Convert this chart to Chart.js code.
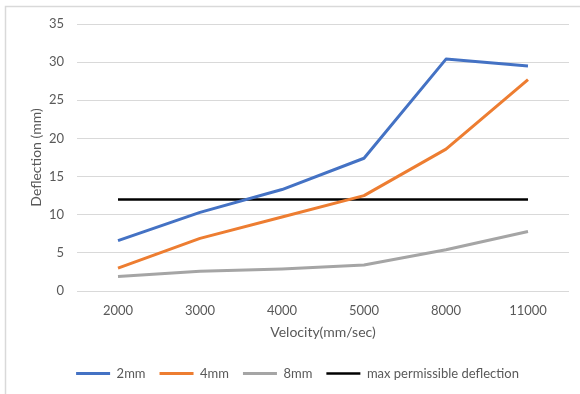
<!DOCTYPE html>
<html>
<head>
<meta charset="utf-8">
<title>Deflection vs Velocity</title>
<script src="https://cdn.jsdelivr.net/npm/chart.js@4.4.1/dist/chart.umd.min.js"></script>
<style>
  html, body { margin: 0; padding: 0; background: #fff; }
  #wrap { position: relative; width: 580px; height: 394px; }
</style>
</head>
<body>
<div id="wrap"><canvas id="chart" width="580" height="394"></canvas></div>
<script>
// Velocity categories (mm/sec)
const velocities = ['2000', '3000', '4000', '5000', '8000', '11000'];

// Deflection (mm) for each plate thickness
const deflection2mm = [6.6, 10.3, 13.3, 17.4, 30.4, 29.5];
const deflection4mm = [3.0, 6.9, 9.7, 12.5, 18.6, 27.7];
const deflection8mm = [1.9, 2.6, 2.9, 3.4, 5.4, 7.8];
const maxPermissible = [12, 12, 12, 12, 12, 12];

const yTicks = { min: 0, max: 35, step: 5 };

const textGray = '#595959';
const gridGray = '#d9d9d9';
const fontFamily = 'Lato, "Open Sans", "Liberation Sans", sans-serif';

// Thin frame along the top and left of the chart area
const framePlugin = {
  id: 'frame',
  beforeDraw(chart) {
    const ctx = chart.ctx;
    ctx.save();
    ctx.fillStyle = '#ffffff';
    ctx.fillRect(0, 0, chart.width, chart.height);
    ctx.strokeStyle = '#d9d9d9';
    ctx.lineWidth = 1.5;
    ctx.beginPath();
    ctx.moveTo(5.5, chart.height);
    ctx.lineTo(5.5, 6.5);
    ctx.lineTo(chart.width, 6.5);
    ctx.stroke();
    ctx.restore();
  }
};

function lineSet(label, data, color) {
  return {
    label,
    data,
    borderColor: color,
    backgroundColor: color,
    borderWidth: 3,
    pointRadius: 0,
    pointHoverRadius: 0,
    tension: 0,
    fill: false,
    borderCapStyle: 'butt',
    borderJoinStyle: 'round'
  };
}

new Chart(document.getElementById('chart'), {
  type: 'line',
  data: {
    labels: velocities,
    datasets: [
      lineSet('2mm', deflection2mm, '#4472C4'),
      lineSet('4mm', deflection4mm, '#ED7D31'),
      lineSet('8mm', deflection8mm, '#A5A5A5'),
      Object.assign(lineSet('max permissible deflection', maxPermissible, '#000000'), { borderWidth: 2.5 })
    ]
  },
  options: {
    responsive: false,
    animation: false,
    events: [],
    layout: { padding: { left: 26, right: 11, top: 24, bottom: 4 } },
    plugins: {
      legend: {
        position: 'bottom',
        labels: {
          usePointStyle: true,
          pointStyle: 'line',
          pointStyleWidth: 34,
          boxHeight: 12,
          padding: 14,
          color: textGray,
          font: { family: fontFamily, size: 13 }
        }
      },
      tooltip: { enabled: false }
    },
    scales: {
      x: {
        offset: true,
        grid: { display: false, drawTicks: false, offset: false },
        border: { display: false },
        ticks: { color: textGray, font: { family: fontFamily, size: 13 }, padding: 12, maxRotation: 0 },
        title: {
          display: true,
          text: 'Velocity(mm/sec)',
          color: textGray,
          font: { family: fontFamily, size: 14 },
          padding: { top: 0, bottom: 12 }
        },
        afterFit(scale) { scale.height = 62; }
      },
      y: {
        min: yTicks.min,
        max: yTicks.max,
        grid: { color: gridGray, lineWidth: 1, drawTicks: false },
        border: { display: false },
        ticks: { stepSize: yTicks.step, color: textGray, font: { family: fontFamily, size: 13 }, padding: 13 },
        title: {
          display: true,
          text: 'Deflection (mm)',
          color: textGray,
          font: { family: fontFamily, size: 14 },
          padding: { top: 2, bottom: 0 }
        },
        afterFit(scale) { scale.width = 51; }
      }
    }
  },
  plugins: [framePlugin]
});
</script>
</body>
</html>
